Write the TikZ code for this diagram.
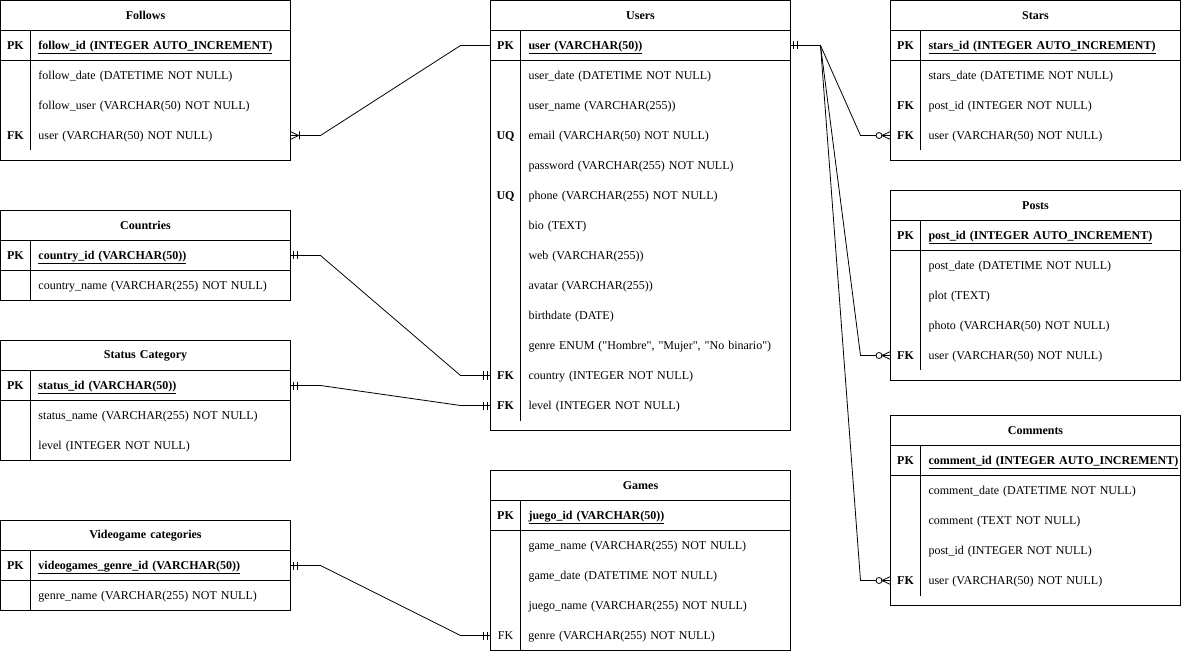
\documentclass[tikz,border=0pt]{standalone}
\usepackage{fontspec}
\setmainfont{Liberation Serif}
\usepackage{tikz}
\usetikzlibrary{positioning,calc,arrows.meta}

\newcommand{\keycol}[1]{\makebox[30pt]{#1}\hspace{8pt}}
\newcommand{\erfont}{\fontsize{12pt}{14pt}\selectfont}

% ER end markers
\pgfdeclarearrow{
  name = ERbars,
  setup code = {
    \pgfarrowssettipend{0pt}
    \pgfarrowssetlineend{0pt}
    \pgfarrowssetbackend{-8pt}
    \pgfarrowshullpoint{0pt}{4pt}
    \pgfarrowshullpoint{-8pt}{-4pt}
  },
  drawing code = {
    \pgfpathmoveto{\pgfqpoint{-3pt}{-4pt}}
    \pgfpathlineto{\pgfqpoint{-3pt}{4pt}}
    \pgfpathmoveto{\pgfqpoint{-7pt}{-4pt}}
    \pgfpathlineto{\pgfqpoint{-7pt}{4pt}}
    \pgfusepathqstroke
  }
}
\pgfdeclarearrow{
  name = ERzeromany,
  setup code = {
    \pgfarrowssettipend{0pt}
    \pgfarrowssetlineend{-14.5pt}
    \pgfarrowssetbackend{-14.5pt}
    \pgfarrowshullpoint{0pt}{4pt}
    \pgfarrowshullpoint{-15pt}{-4pt}
  },
  drawing code = {
    \pgfpathcircle{\pgfqpoint{-11.5pt}{0pt}}{3pt}
    \pgfpathmoveto{\pgfqpoint{-8.5pt}{0pt}}
    \pgfpathlineto{\pgfqpoint{0pt}{0pt}}
    \pgfpathmoveto{\pgfqpoint{0pt}{4pt}}
    \pgfpathlineto{\pgfqpoint{-8.5pt}{0pt}}
    \pgfpathlineto{\pgfqpoint{0pt}{-4pt}}
    \pgfusepathqstroke
  }
}
\pgfdeclarearrow{
  name = ERonemany,
  setup code = {
    \pgfarrowssettipend{0pt}
    \pgfarrowssetlineend{0pt}
    \pgfarrowssetbackend{-9pt}
    \pgfarrowshullpoint{0pt}{4pt}
    \pgfarrowshullpoint{-9pt}{-4pt}
  },
  drawing code = {
    \pgfpathmoveto{\pgfqpoint{0pt}{4pt}}
    \pgfpathlineto{\pgfqpoint{-8pt}{0pt}}
    \pgfpathlineto{\pgfqpoint{0pt}{-4pt}}
    \pgfpathmoveto{\pgfqpoint{-9pt}{-4pt}}
    \pgfpathlineto{\pgfqpoint{-9pt}{4pt}}
    \pgfusepathqstroke
  }
}

\tikzset{
  tbl/.style={rectangle, draw, line width=1pt, inner sep=0pt, outer sep=0pt,
              anchor=north west},
  tblhead/.style={rectangle, draw, line width=1pt, text width=#1,
                  minimum height=30pt, inner sep=0pt, outer sep=0pt,
                  align=center, font=\erfont\bfseries},
  pkrow/.style={rectangle, draw, line width=1pt, text width=#1,
                minimum height=30pt, inner sep=0pt, outer sep=0pt,
                text height=10pt, text depth=2pt, align=left, font=\erfont},
  fieldrow/.style={rectangle, text width=#1, minimum height=30pt,
                   inner sep=0pt, outer sep=0pt, text height=10pt,
                   text depth=2pt, align=left, font=\erfont},
  divider/.style={line width=1pt},
  link/.style={line width=0.8pt}
}

\begin{document}
\begin{tikzpicture}[x=1pt, y=-1pt]
\useasboundingbox (-0.5,-0.5) rectangle (1180.5,651.5);

% --- Follows ---
\node[tbl, minimum width=290pt, minimum height=160pt] (follows) at (0,0) {};
\node[tblhead=290pt, below=0pt of follows.north] (follows-h) {Follows};
\node[pkrow=290pt, below=0pt of follows-h] (follows-pk)
  {\keycol{\textbf{PK}}\underline{\textbf{follow\_id (INTEGER AUTO\_INCREMENT)}}};
\node[fieldrow=290pt, below=0pt of follows-pk] (follows-r1)
  {\keycol{}follow\_date (DATETIME NOT NULL)};
\node[fieldrow=290pt, below=0pt of follows-r1] (follows-r2)
  {\keycol{}follow\_user (VARCHAR(50) NOT NULL)};
\node[fieldrow=290pt, below=0pt of follows-r2] (follows-r3)
  {\keycol{\textbf{FK}}user (VARCHAR(50) NOT NULL)};
\draw[divider] ([xshift=30pt]follows-pk.north west) -- ([xshift=30pt]follows-r3.south west);

% --- Countries ---
\node[tbl, minimum width=290pt, minimum height=90pt] (countries) at (0,210) {};
\node[tblhead=290pt, below=0pt of countries.north] (countries-h) {Countries};
\node[pkrow=290pt, below=0pt of countries-h] (countries-pk)
  {\keycol{\textbf{PK}}\underline{\textbf{country\_id (VARCHAR(50))}}};
\node[fieldrow=290pt, below=0pt of countries-pk] (countries-r1)
  {\keycol{}country\_name (VARCHAR(255) NOT NULL)};
\draw[divider] ([xshift=30pt]countries-pk.north west) -- ([xshift=30pt]countries-r1.south west);

% --- Status Category ---
\node[tbl, minimum width=290pt, minimum height=120pt] (status) at (0,340) {};
\node[tblhead=290pt, below=0pt of status.north] (status-h) {Status Category};
\node[pkrow=290pt, below=0pt of status-h] (status-pk)
  {\keycol{\textbf{PK}}\underline{\textbf{status\_id (VARCHAR(50))}}};
\node[fieldrow=290pt, below=0pt of status-pk] (status-r1)
  {\keycol{}status\_name (VARCHAR(255) NOT NULL)};
\node[fieldrow=290pt, below=0pt of status-r1] (status-r2)
  {\keycol{}level (INTEGER NOT NULL)};
\draw[divider] ([xshift=30pt]status-pk.north west) -- ([xshift=30pt]status-r2.south west);

% --- Videogame categories ---
\node[tbl, minimum width=290pt, minimum height=90pt] (vgcat) at (0,520) {};
\node[tblhead=290pt, below=0pt of vgcat.north] (vgcat-h) {Videogame categories};
\node[pkrow=290pt, below=0pt of vgcat-h] (vgcat-pk)
  {\keycol{\textbf{PK}}\underline{\textbf{videogames\_genre\_id (VARCHAR(50))}}};
\node[fieldrow=290pt, below=0pt of vgcat-pk] (vgcat-r1)
  {\keycol{}genre\_name (VARCHAR(255) NOT NULL)};
\draw[divider] ([xshift=30pt]vgcat-pk.north west) -- ([xshift=30pt]vgcat-r1.south west);

% --- Users ---
\node[tbl, minimum width=300pt, minimum height=430pt] (users) at (490,0) {};
\node[tblhead=300pt, below=0pt of users.north] (users-h) {Users};
\node[pkrow=300pt, below=0pt of users-h] (users-pk)
  {\keycol{\textbf{PK}}\underline{\textbf{user (VARCHAR(50))}}};
\node[fieldrow=300pt, below=0pt of users-pk] (users-r1)
  {\keycol{}user\_date (DATETIME NOT NULL)};
\node[fieldrow=300pt, below=0pt of users-r1] (users-r2)
  {\keycol{}user\_name (VARCHAR(255))};
\node[fieldrow=300pt, below=0pt of users-r2] (users-r3)
  {\keycol{\textbf{UQ}}email (VARCHAR(50) NOT NULL)};
\node[fieldrow=300pt, below=0pt of users-r3] (users-r4)
  {\keycol{}password (VARCHAR(255) NOT NULL)};
\node[fieldrow=300pt, below=0pt of users-r4] (users-r5)
  {\keycol{\textbf{UQ}}phone (VARCHAR(255) NOT NULL)};
\node[fieldrow=300pt, below=0pt of users-r5] (users-r6)
  {\keycol{}bio (TEXT)};
\node[fieldrow=300pt, below=0pt of users-r6] (users-r7)
  {\keycol{}web (VARCHAR(255))};
\node[fieldrow=300pt, below=0pt of users-r7] (users-r8)
  {\keycol{}avatar (VARCHAR(255))};
\node[fieldrow=300pt, below=0pt of users-r8] (users-r9)
  {\keycol{}birthdate (DATE)};
\node[fieldrow=300pt, below=0pt of users-r9] (users-r10)
  {\keycol{}genre ENUM (\textquotedbl Hombre\textquotedbl, \textquotedbl Mujer\textquotedbl, \textquotedbl No binario\textquotedbl)};
\node[fieldrow=300pt, below=0pt of users-r10] (users-r11)
  {\keycol{\textbf{FK}}country (INTEGER NOT NULL)};
\node[fieldrow=300pt, below=0pt of users-r11] (users-r12)
  {\keycol{\textbf{FK}}level (INTEGER NOT NULL)};
\draw[divider] ([xshift=30pt]users-pk.north west) -- ([xshift=30pt]users-r12.south west);

% --- Games ---
\node[tbl, minimum width=300pt, minimum height=180pt] (games) at (490,470) {};
\node[tblhead=300pt, below=0pt of games.north] (games-h) {Games};
\node[pkrow=300pt, below=0pt of games-h] (games-pk)
  {\keycol{\textbf{PK}}\underline{\textbf{juego\_id (VARCHAR(50))}}};
\node[fieldrow=300pt, below=0pt of games-pk] (games-r1)
  {\keycol{}game\_name (VARCHAR(255) NOT NULL)};
\node[fieldrow=300pt, below=0pt of games-r1] (games-r2)
  {\keycol{}game\_date (DATETIME NOT NULL)};
\node[fieldrow=300pt, below=0pt of games-r2] (games-r3)
  {\keycol{}juego\_name (VARCHAR(255) NOT NULL)};
\node[fieldrow=300pt, below=0pt of games-r3] (games-r4)
  {\keycol{FK}genre (VARCHAR(255) NOT NULL)};
\draw[divider] ([xshift=30pt]games-pk.north west) -- ([xshift=30pt]games-r4.south west);

% --- Stars ---
\node[tbl, minimum width=290pt, minimum height=160pt] (stars) at (890,0) {};
\node[tblhead=290pt, below=0pt of stars.north] (stars-h) {Stars};
\node[pkrow=290pt, below=0pt of stars-h] (stars-pk)
  {\keycol{\textbf{PK}}\underline{\textbf{stars\_id (INTEGER AUTO\_INCREMENT)}}};
\node[fieldrow=290pt, below=0pt of stars-pk] (stars-r1)
  {\keycol{}stars\_date (DATETIME NOT NULL)};
\node[fieldrow=290pt, below=0pt of stars-r1] (stars-r2)
  {\keycol{\textbf{FK}}post\_id (INTEGER NOT NULL)};
\node[fieldrow=290pt, below=0pt of stars-r2] (stars-r3)
  {\keycol{\textbf{FK}}user (VARCHAR(50) NOT NULL)};
\draw[divider] ([xshift=30pt]stars-pk.north west) -- ([xshift=30pt]stars-r3.south west);

% --- Posts ---
\node[tbl, minimum width=290pt, minimum height=190pt] (posts) at (890,190) {};
\node[tblhead=290pt, below=0pt of posts.north] (posts-h) {Posts};
\node[pkrow=290pt, below=0pt of posts-h] (posts-pk)
  {\keycol{\textbf{PK}}\underline{\textbf{post\_id (INTEGER AUTO\_INCREMENT)}}};
\node[fieldrow=290pt, below=0pt of posts-pk] (posts-r1)
  {\keycol{}post\_date (DATETIME NOT NULL)};
\node[fieldrow=290pt, below=0pt of posts-r1] (posts-r2)
  {\keycol{}plot (TEXT)};
\node[fieldrow=290pt, below=0pt of posts-r2] (posts-r3)
  {\keycol{}photo (VARCHAR(50) NOT NULL)};
\node[fieldrow=290pt, below=0pt of posts-r3] (posts-r4)
  {\keycol{\textbf{FK}}user (VARCHAR(50) NOT NULL)};
\draw[divider] ([xshift=30pt]posts-pk.north west) -- ([xshift=30pt]posts-r4.south west);

% --- Comments ---
\node[tbl, minimum width=290pt, minimum height=190pt] (comments) at (890,415) {};
\node[tblhead=290pt, below=0pt of comments.north] (comments-h) {Comments};
\node[pkrow=290pt, below=0pt of comments-h] (comments-pk)
  {\keycol{\textbf{PK}}\underline{\textbf{comment\_id (INTEGER AUTO\_INCREMENT)}}};
\node[fieldrow=290pt, below=0pt of comments-pk] (comments-r1)
  {\keycol{}comment\_date (DATETIME NOT NULL)};
\node[fieldrow=290pt, below=0pt of comments-r1] (comments-r2)
  {\keycol{}comment (TEXT NOT NULL)};
\node[fieldrow=290pt, below=0pt of comments-r2] (comments-r3)
  {\keycol{}post\_id (INTEGER NOT NULL)};
\node[fieldrow=290pt, below=0pt of comments-r3] (comments-r4)
  {\keycol{\textbf{FK}}user (VARCHAR(50) NOT NULL)};
\draw[divider] ([xshift=30pt]comments-pk.north west) -- ([xshift=30pt]comments-r4.south west);

% --- Relations ---
\draw[link, -ERonemany] (users-pk.west) -- ++(-30,0)
  -- ($(follows-r3.east)+(30,0)$) -- (follows-r3.east);
\draw[link, ERbars-ERbars] (countries-pk.east) -- ++(30,0)
  -- ($(users-r11.west)+(-30,0)$) -- (users-r11.west);
\draw[link, ERbars-ERbars] (status-pk.east) -- ++(30,0)
  -- ($(users-r12.west)+(-30,0)$) -- (users-r12.west);
\draw[link, ERbars-ERbars] (vgcat-pk.east) -- ++(30,0)
  -- ($(games-r4.west)+(-30,0)$) -- (games-r4.west);
\draw[link, ERbars-ERzeromany] (users-pk.east) -- ++(30,0)
  -- ($(stars-r3.west)+(-30,0)$) -- (stars-r3.west);
\draw[link, ERbars-ERzeromany] (users-pk.east) -- ++(30,0)
  -- ($(posts-r4.west)+(-30,0)$) -- (posts-r4.west);
\draw[link, ERbars-ERzeromany] (users-pk.east) -- ++(30,0)
  -- ($(comments-r4.west)+(-30,0)$) -- (comments-r4.west);

\end{tikzpicture}
\end{document}
